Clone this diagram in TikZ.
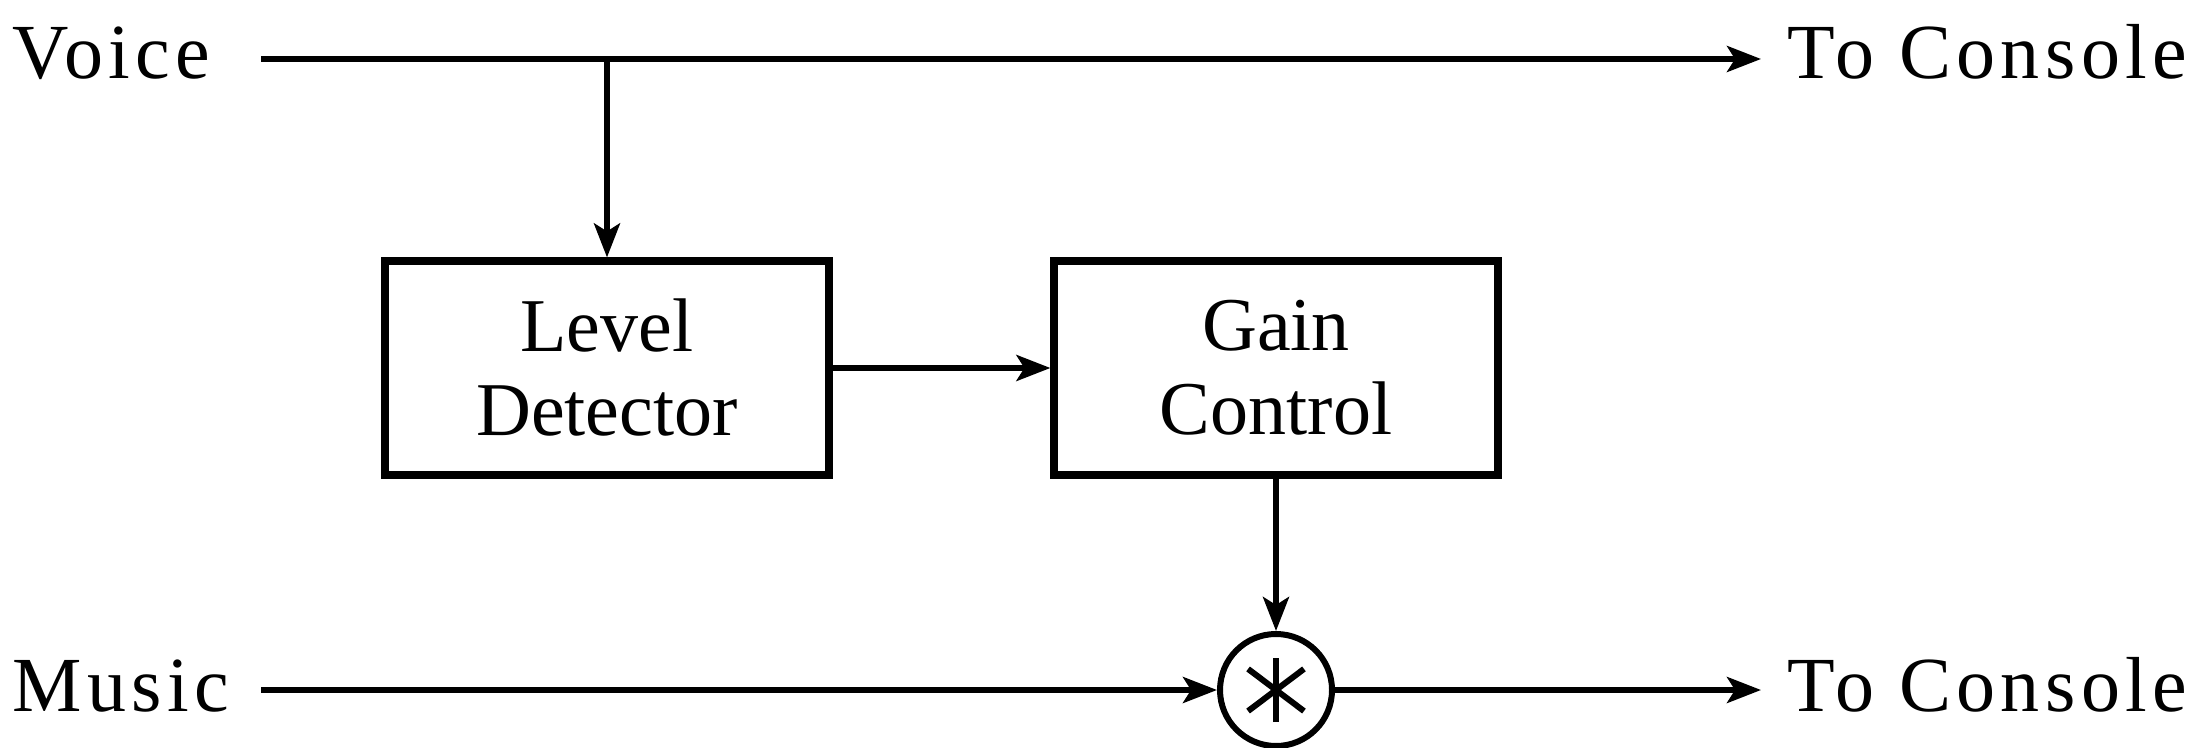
\documentclass[tikz,border=0pt]{standalone}
\usepackage{fontspec}
\setmainfont{Liberation Serif}
\newfontfamily\spacedfont[LetterSpace=7]{Liberation Serif}
\usetikzlibrary{arrows.meta}
\begin{document}
\begin{tikzpicture}[x=0.5pt,y=-0.5pt,
  arr/.style={line width=2.8pt,-{Stealth[length=17pt,width=13pt,inset=4pt]}},
  blockbox/.style={draw,line width=3.6pt,minimum width=222pt,minimum height=107pt,
    align=center,font=\fontsize{38}{42}\selectfont,inner sep=0pt},
  lbl/.style={font=\spacedfont\fontsize{39}{42}\selectfont,inner sep=0pt},
  mult/.style={draw,circle,line width=3pt,minimum size=56pt,inner sep=0pt}]
\useasboundingbox (0,0) rectangle (2209,748);
% labels
\node[lbl,anchor=base west] (voice) at (12,79) {Voice};
\node[lbl,anchor=base west] (tc1) at (1787,79) {To Console};
\node[lbl,anchor=base west] (music) at (12,711) {Music};
\node[lbl,anchor=base west] (tc2) at (1787,711) {To Console};
% coordinates
\coordinate (vstart) at (261,59);
\coordinate (vend) at (1761,59);
\coordinate (branch) at (607,59);
\coordinate (mstart) at (261,690);
\coordinate (mend) at (1761,690);
% blocks
\node[blockbox] (level) at (607,368) {Level\\Detector};
\node[blockbox] (gain) at (1276,368) {Gain\\Control};
\node[mult] (mul) at (1276,690) {};
% asterisk
\draw[line width=3pt] (mul.center) ++(90:32) -- ++(270:64);
\draw[line width=3pt] (mul.center) ++(37:35) -- ++(217:70);
\draw[line width=3pt] (mul.center) ++(143:35) -- ++(323:70);
% connectors
\draw[arr] (vstart) -- (vend);
\draw[arr] (branch) -- (level.north);
\draw[arr] (level.east) -- (gain.west);
\draw[arr] (gain.south) -- (mul.north);
\draw[arr] (mstart) -- (mul.west);
\draw[arr] (mul.east) -- (mend);
\end{tikzpicture}
\end{document}
